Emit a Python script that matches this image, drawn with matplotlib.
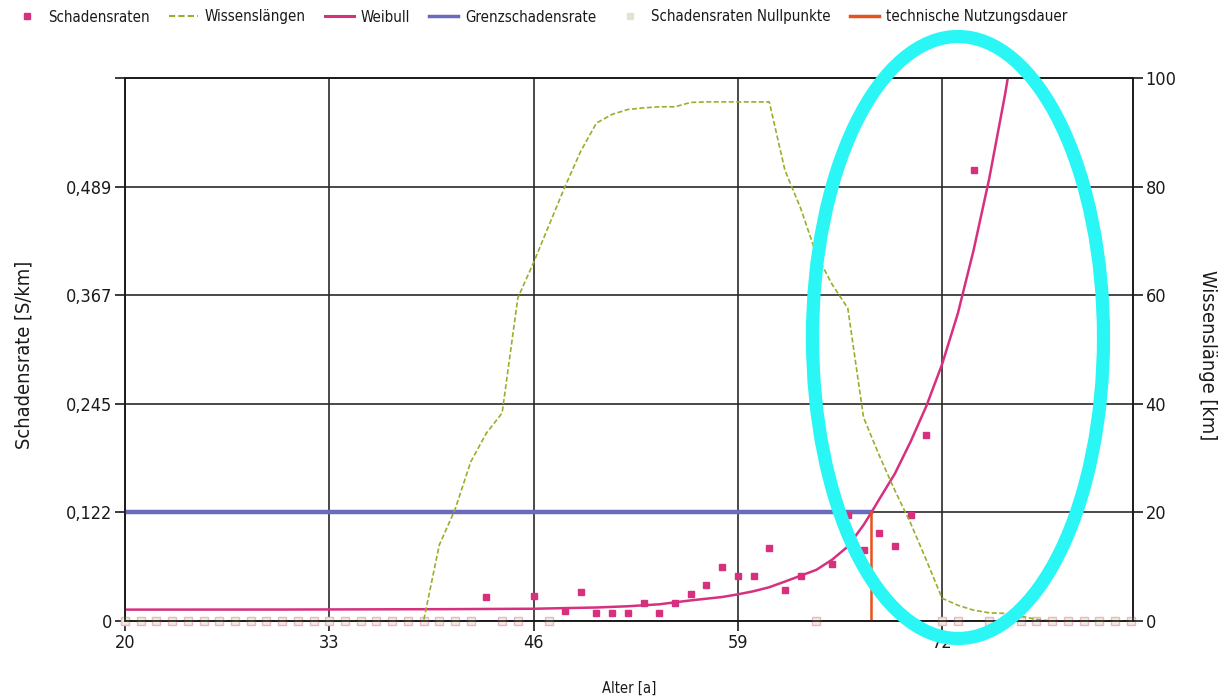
import matplotlib
matplotlib.use("Agg")
import matplotlib.pyplot as plt
import matplotlib.font_manager as fm
from matplotlib.lines import Line2D
from matplotlib.patches import Ellipse

# ---- font: prefer a narrow sans (reference text is horizontally condensed) ----
narrow_name, narrow_stretch = None, 'normal'
for f in fm.fontManager.ttflist:
    if f.name in ('Liberation Sans Narrow', 'Arial Narrow'):
        narrow_name, narrow_stretch = f.name, 'normal'
        break
if narrow_name is None:
    for f in fm.fontManager.ttflist:
        st = str(f.stretch)
        if 'condensed' in st and f.name in ('Roboto', 'Roboto Condensed', 'Open Sans',
                                            'DejaVu Sans', 'Noto Sans', 'Inter', 'Lato'):
            narrow_name, narrow_stretch = f.name, st
            break
if narrow_name:
    plt.rcParams['font.family'] = [narrow_name, 'Liberation Sans', 'DejaVu Sans']
    plt.rcParams['font.stretch'] = narrow_stretch
    FS_TICK, FS_VT, FS_HT, FS_LEG = 13, 14.3, 10.5, 10.8
else:
    plt.rcParams['font.family'] = ['Liberation Sans', 'DejaVu Sans']
    FS_TICK, FS_VT, FS_HT, FS_LEG = 11.5, 13, 9, 9

# ---- data ----
rate_x = [43, 46, 48, 49, 50, 51, 52, 53, 54, 55, 56, 57, 58, 59, 60, 61, 62, 63,
          65, 66, 67, 68, 69, 70, 71, 74]
rate_y = [0.0274, 0.0286, 0.0113, 0.0330, 0.0094, 0.0094, 0.0087, 0.0207, 0.0087,
          0.0200, 0.0300, 0.0406, 0.0613, 0.0508, 0.0508, 0.0820, 0.0350, 0.0511,
          0.0643, 0.1197, 0.0800, 0.0993, 0.0840, 0.1190, 0.2090, 0.5080]

zero_x = list(range(20, 43)) + [44, 45, 47, 64, 72, 73] + list(range(75, 85))
zero_y = [0.0] * len(zero_x)

wissen_x = [20, 39, 40, 41, 42, 43, 44, 45, 46, 47, 48, 49, 50, 51, 52, 53, 54, 55,
            56, 57, 58, 59, 60, 61, 62, 63, 64, 65, 66, 67, 68, 69, 70, 71, 72, 73,
            74, 75, 76, 77, 78, 79, 84]
wissen_y = [0, 0, 14.0, 20.5, 29.3, 34.6, 38.3, 59.5, 66.0, 73.0, 80.0, 86.5, 91.7,
            93.3, 94.2, 94.5, 94.7, 94.7, 95.5, 95.6, 95.6, 95.6, 95.6, 95.6, 83.0,
            76.0, 67.5, 62.0, 57.6, 37.5, 30.5, 24.0, 18.0, 11.2, 4.2, 2.9, 2.0, 1.5,
            1.4, 0.9, 0.3, 0, 0]

weib_x = [20, 30, 40, 46, 50, 52, 54, 56, 58, 59, 60, 61, 62, 63, 64, 65, 66, 67,
          67.5, 68, 69, 70, 71, 72, 73, 74, 75, 76, 76.5]
weib_y = [0.0128, 0.0129, 0.0133, 0.0138, 0.0152, 0.0166, 0.0188, 0.0232, 0.0270,
          0.0300, 0.0335, 0.0380, 0.0444, 0.0510, 0.0576, 0.0690, 0.0839, 0.1080,
          0.1222, 0.1370, 0.1660, 0.2020, 0.2420, 0.2890, 0.3460, 0.4170, 0.4980,
          0.5920, 0.6450]

grenz_rate = 0.12225
tnd = 67.46

x_ticks = [20, 33, 46, 59, 72]
y_ticks = [0, 0.12225, 0.2445, 0.36675, 0.489, 0.61125]
y_labels = ['0', '0,122', '0,245', '0,367', '0,489', '']
y2_ticks = [0, 20, 40, 60, 80, 100]

# ---- figure ----
W, H = 1218, 697
fig = plt.figure(figsize=(W / 100, H / 100), dpi=100)
L, R, T, B = 125, 1133, 78, 621
ax = fig.add_axes([L / W, 1 - B / H, (R - L) / W, (B - T) / H])
ax2 = ax.twinx()

c_rate = '#d6307f'
c_wissen = '#9aae2a'
c_grenz = '#6a6abf'
c_orange = '#e8501c'
txt = '#1a1a1a'

ax.set_xlim(20, 84.15)
ax.set_ylim(0, 0.61125)
ax2.set_ylim(0, 100)

ax.set_xticks(x_ticks)
ax.set_xticklabels([str(v) for v in x_ticks])
ax.set_yticks(y_ticks)
ax.set_yticklabels(y_labels)
ax2.set_yticks(y2_ticks)
ax2.set_yticklabels([str(v) for v in y2_ticks])

ax.grid(True, color='#2a2a2a', lw=1.2)
ax.set_axisbelow(True)
for a in (ax, ax2):
    for s in a.spines.values():
        s.set_color('#1a1a1a')
        s.set_linewidth(1.2)
    a.tick_params(direction='out', length=7, width=1.2, color='#1a1a1a',
                  labelsize=FS_TICK, labelcolor=txt, pad=2)

# marks
ax.plot(zero_x, zero_y, ls='none', marker='s', ms=5.5, mfc='#efece0', mec='#f2b3c6',
        mew=1.0, zorder=3, clip_on=False)
ax.plot([20, tnd], [grenz_rate, grenz_rate], color=c_grenz, lw=3.2, zorder=4)
ax.plot(weib_x, weib_y, color=c_rate, lw=1.8, zorder=5)
ax.plot([tnd, tnd], [0, grenz_rate], color=c_orange, lw=1.8, zorder=5)
ax.plot(rate_x, rate_y, ls='none', marker='s', ms=5, color=c_rate, zorder=6)
ax2.plot(wissen_x, wissen_y, color=c_wissen, lw=1.2, ls=(0, (3, 1.5)), zorder=2)

ax.set_xlabel('Alter [a]', fontsize=FS_HT, color=txt)
ax.xaxis.set_label_coords(0.5, -(688 - B) / (B - T), transform=ax.transAxes)
ax.xaxis.label.set_va('center')
ax.set_ylabel('Schadensrate [S/km]', fontsize=FS_VT, color=txt)
ax.yaxis.set_label_coords(-(L - 24) / (R - L), 0.49)
ax.yaxis.label.set_va('center')
ax2.set_ylabel('Wissenslänge [km]', fontsize=FS_VT, color=txt, rotation=270)
ax2.yaxis.set_label_coords(1 + (1207 - R) / (R - L), 0.49)
ax2.yaxis.label.set_va('center')

# legend
handles = [
    Line2D([], [], ls='none', marker='s', ms=5, color=c_rate),
    Line2D([], [], color=c_wissen, lw=1.5, ls=(0, (3, 1.5))),
    Line2D([], [], color=c_rate, lw=2.2),
    Line2D([], [], color=c_grenz, lw=2.5),
    Line2D([], [], ls='none', marker='s', ms=5, mfc='#e6e2d2', mec='#e6e2d2'),
    Line2D([], [], color=c_orange, lw=2.5),
]
labels = ['Schadensraten', 'Wissenslängen', 'Weibull', 'Grenzschadensrate',
          'Schadensraten Nullpunkte', 'technische Nutzungsdauer']
em = FS_LEG * 100 / 72
fig.legend(handles, labels, loc='center left', bbox_to_anchor=(12 / W, 1 - 17 / H),
           ncol=6, frameon=False, fontsize=FS_LEG, handlelength=29 / em,
           handletextpad=7 / em, columnspacing=19 / em, labelcolor=txt,
           borderaxespad=0, borderpad=0)

# cyan annotation ellipse
ell = Ellipse((958 / W, 1 - 337.5 / H), width=291 / W, height=602 / H,
              transform=fig.transFigure, fill=False, ec='#2af6f6', lw=9.5, zorder=20)
fig.add_artist(ell)

fig.savefig('out.png', dpi=100)
